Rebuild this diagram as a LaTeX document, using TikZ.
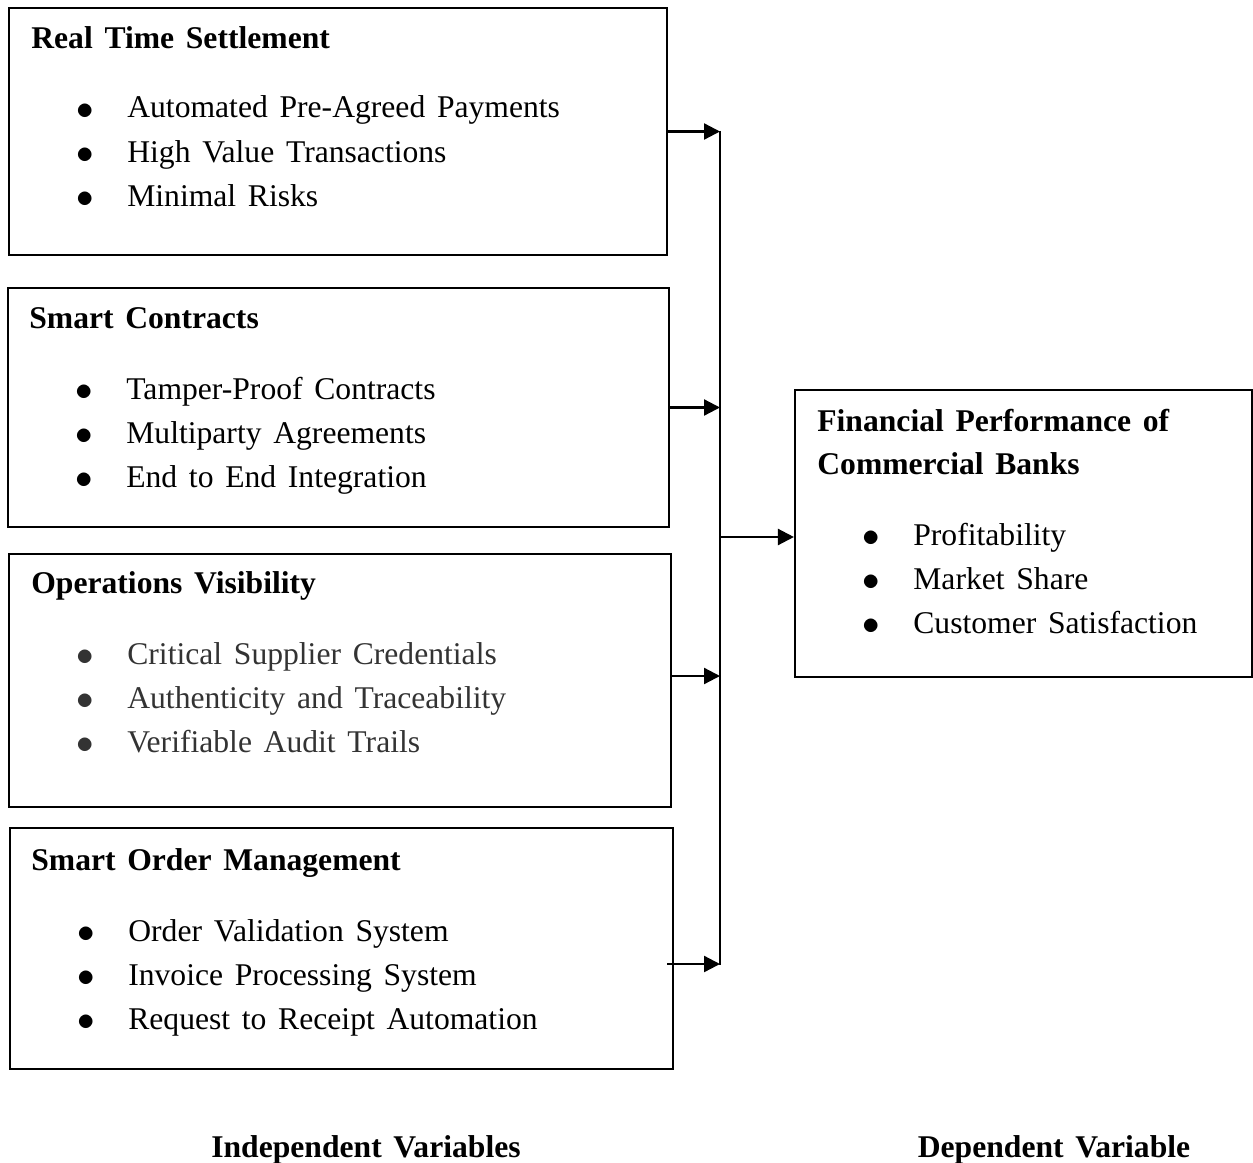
\documentclass[tikz,border=0pt]{standalone}
\usepackage{fontspec}
\setmainfont{Liberation Serif}
\usetikzlibrary{arrows.meta,fit}
\newcommand\wsp{\spaceskip 0.37em\relax}
\tikzset{
  box/.style={draw, line width=1.2pt, inner sep=0pt},
  head/.style={anchor=base west, inner sep=0pt, font={\fontsize{18}{25}\selectfont\bfseries\wsp}},
  item/.style={anchor=base west, inner sep=0pt, font={\fontsize{18}{25}\selectfont\wsp}},
  arr/.style={line width=1.3pt, -{Triangle[length=0.32cm,width=0.32cm]}}
}
\newcommand\bul[1]{\makebox[1.02cm][l]{\raisebox{-0.04em}{\scalebox{1.15}{$\bullet$}}}#1}
\begin{document}
\begin{tikzpicture}[x=0.02cm,y=-0.02cm]
\useasboundingbox (0,0) rectangle (1253,1162);
% independent variables
\node[box, fit={(9,8) (667,255)}] (rts) {};
\node[box, fit={(8,288) (669,527)}] (sc) {};
\node[box, fit={(9,554) (671,807)}] (ov) {};
\node[box, fit={(10,828) (673,1069)}] (som) {};
% dependent variable
\node[box, fit={(795,390) (1252,677)}] (fpcb) {};

\node[head] (rtsh) at (31,48.5) {Real Time Settlement};
\foreach \t [count=\i] in {Automated Pre-Agreed Payments, High Value Transactions, Minimal Risks}
  \node[item] (rts\i) at (76,{118+44.3*(\i-1)}) {\bul{\t}};

\node[head] (sch) at (29,328.5) {Smart Contracts};
\foreach \t [count=\i] in {Tamper-Proof Contracts, Multiparty Agreements, End to End Integration}
  \node[item] (sc\i) at (75,{399+44.3*(\i-1)}) {\bul{\t}};

\node[head] (ovh) at (31,593) {Operations Visibility};
\foreach \t [count=\i] in {Critical Supplier Credentials, Authenticity and Traceability, Verifiable Audit Trails}
  \node[item, text=black!80] (ov\i) at (76,{664+44.3*(\i-1)}) {\bul{\t}};

\node[head] (somh) at (31,870) {Smart Order Management};
\foreach \t [count=\i] in {Order Validation System, Invoice Processing System, Request to Receipt Automation}
  \node[item] (som\i) at (77,{941+44.3*(\i-1)}) {\bul{\t}};

\node[head] (fpcbh1) at (817,431) {Financial Performance of};
\node[head] (fpcbh2) at (817,474) {Commercial Banks};
\foreach \t [count=\i] in {Profitability, Market Share, Customer Satisfaction}
  \node[item] (fpcb\i) at (862,{545+44.3*(\i-1)}) {\bul{\t}};

% connectors
\coordinate (bustop) at (720,131);
\coordinate (busbot) at (720,965);
\coordinate (busmid) at (720,537);
\draw[line width=1.3pt] (bustop) -- (busbot);
\draw[arr] (rts.east) -- (rts.east -| bustop);
\draw[arr] (sc.east) -- (sc.east -| bustop);
\draw[arr] ([shift={(0,-4.5)}]ov.east) -- ([shift={(0,-4.5)}]ov.east -| bustop);
\draw[arr] ([shift={(-7,15.5)}]som.east) -- ([shift={(0,15.5)}]som.east -| bustop);
\draw[arr] (busmid) -- (busmid -| fpcb.west);

\node[head, anchor=base] (iv) at (366,1157) {Independent Variables};
\node[head, anchor=base] (dv) at (1054,1157) {Dependent Variable};
\end{tikzpicture}
\end{document}
